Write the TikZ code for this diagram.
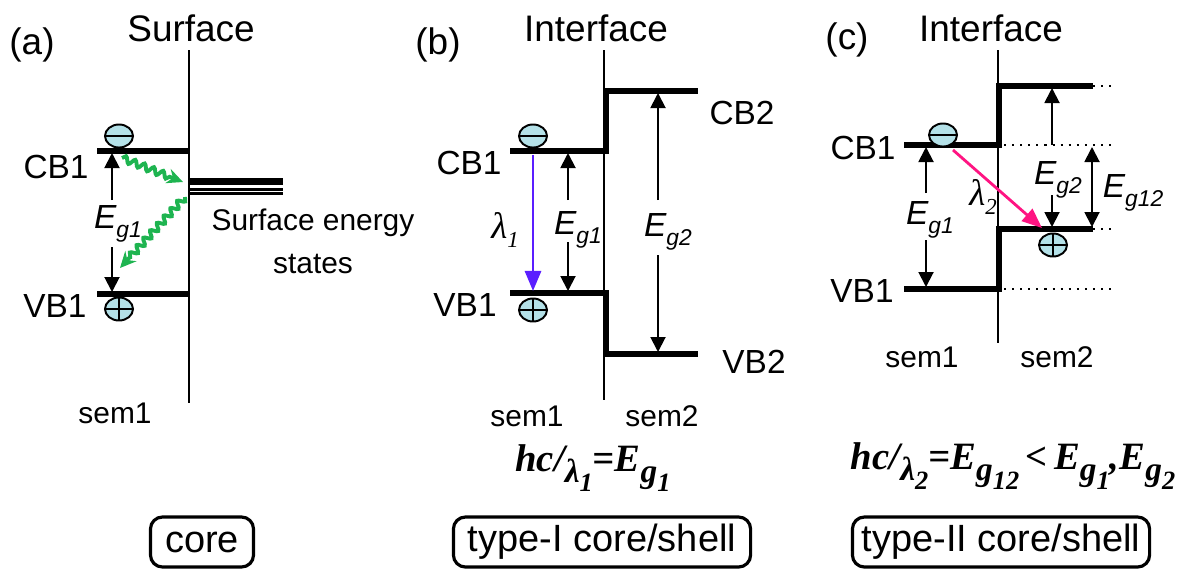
\documentclass[tikz,border=0pt]{standalone}
\usepackage{fontspec}
\setmainfont{Liberation Sans}
\newfontfamily\formfont{Liberation Serif}
\usetikzlibrary{arrows.meta,shapes.geometric,decorations.pathmorphing}
\definecolor{carrier}{RGB}{180,225,232}
\definecolor{lamblue}{RGB}{90,30,255}
\definecolor{lampink}{RGB}{255,20,130}
\definecolor{relax}{RGB}{30,180,80}
\newcommand{\lowsub}[1]{\raisebox{-0.5ex}{\fontsize{6.5}{7}\selectfont #1}}
\newcommand{\egap}[1]{\textit{E\lowsub{g#1}}}
\newcommand{\fsub}[1]{\raisebox{-0.6ex}{\fontsize{9.5}{10}\selectfont #1}}
\newcommand{\fsubsub}[1]{\raisebox{-0.6ex}{\fontsize{7.5}{8}\selectfont #1}}

\begin{document}
\begin{tikzpicture}[x=0.01cm,y=-0.01cm,
  every node/.style={font=\fontsize{9.5}{11}\selectfont, inner sep=1pt},
  title/.style={font=\fontsize{10.5}{12}\selectfont},
  sem/.style={font=\fontsize{8.5}{10}\selectfont},
  gaplabel/.style={font=\fontsize{9.5}{10}\selectfont},
  lvl/.style={line width=1.45pt},
  wall/.style={line width=0.55pt},
  gaparrow/.style={line width=0.55pt,-{Triangle[width=1.5mm,length=1.5mm]}},
  dots/.style={line width=0.7pt, dash pattern=on 0.6pt off 1.7pt},
  electron/.style={ellipse, draw, line width=0.55pt, fill=carrier, minimum width=0.28cm, minimum height=0.23cm, inner sep=0pt,
    path picture={\draw[line width=0.55pt] (path picture bounding box.west) -- (path picture bounding box.east);}},
  hole/.style={electron,
    path picture={\draw[line width=0.55pt] (path picture bounding box.west) -- (path picture bounding box.east)
      (path picture bounding box.north) -- (path picture bounding box.south);}},
  relaxation/.style={relax, line width=1.1pt, decorate,
    decoration={snake, amplitude=0.032cm, segment length=0.1cm, post length=0.12cm},
    -{Stealth[length=1.6mm,width=1.5mm]}},
  casebox/.style={draw, rounded corners=0.12cm, line width=0.9pt, minimum height=0.5cm, font=\fontsize{10.8}{12}\selectfont},
  formula/.style={font=\fontsize{11}{12}\selectfont\formfont\bfseries\itshape}
]
\useasboundingbox (0,0) rectangle (1182,569);

% ---------- (a) core ----------
\node[title] (laba) at (32,45) {(a)};
\node[title] (surfa) at (191,28) {Surface};
\coordinate (walla0) at (189,50);
\coordinate (walla1) at (189,403);
\draw[wall] (walla0) -- (walla1);
\coordinate (cba0) at (97,151);
\coordinate (cba1) at (189,151);
\coordinate (vba0) at (97,294);
\coordinate (vba1) at (190,294);
\draw[lvl] (cba0) -- (cba1);
\draw[lvl] (vba0) -- (vba1);
\node (cbla) at (56,167) {CB1};
\node (vbla) at (55,306) {VB1};
\node[electron] (ea) at (119,136) {};
\node[hole] (ha) at (119,309) {};
\node[gaplabel] (eg1a) at (118,224) {\egap{1}};
\coordinate (eg1a0) at (112,200);
\coordinate (eg1a1) at (112,153);
\coordinate (eg1a2) at (112,247);
\coordinate (eg1a3) at (112,292);
\draw[gaparrow] (eg1a0) -- (eg1a1);
\draw[gaparrow] (eg1a2) -- (eg1a3);
% surface states
\coordinate (ssa0) at (190,181.5);
\coordinate (ssa1) at (283,181.5);
\draw[line width=1.8pt] (ssa0) -- (ssa1);
\foreach \y in {189.5,193.5}
  \draw[line width=0.6pt] (190,\y) -- (283,\y);
\coordinate (rla0) at (122,158);
\coordinate (rla1) at (183,182);
\coordinate (rla2) at (185,197);
\coordinate (rla3) at (120,268);
\draw[relaxation] (rla0) -- (rla1);
\draw[relaxation] (rla2) -- (rla3);
\node[sem, align=center, font=\fontsize{8.5}{12.2}\selectfont] (ssla) at (313,241) {Surface energy\\states};
\node[sem] (sem1a) at (115,413) {sem1};
\node[casebox, minimum width=1.03cm] (corea) at (202,542) {core};

% ---------- (b) type-I ----------
\node[title] (labb) at (438,45) {(b)};
\node[title] (intb) at (596,28) {Interface};
\coordinate (wallb0) at (604,50);
\coordinate (wallb1) at (604,400);
\draw[wall] (wallb0) -- (wallb1);
\coordinate (cbb0) at (510,151);
\coordinate (cbb1) at (606,151);
\coordinate (cbb2) at (606,91);
\coordinate (cbb3) at (698,91);
\coordinate (vbb0) at (510,293);
\coordinate (vbb1) at (606,293);
\coordinate (vbb2) at (606,354);
\coordinate (vbb3) at (698,354);
\draw[lvl] (cbb0) -- (cbb1) -- (cbb2) -- (cbb3);
\draw[lvl] (vbb0) -- (vbb1) -- (vbb2) -- (vbb3);
\node (cblb) at (469,163) {CB1};
\node (vblb) at (465,305) {VB1};
\node (cb2lb) at (742,113) {CB2};
\node (vb2lb) at (754,362) {VB2};
\node[electron] (eb) at (533,136) {};
\node[hole] (hb) at (533,310) {};
\coordinate (lamb0) at (533,155);
\coordinate (lamb1) at (533,291);
\draw[lamblue, line width=0.8pt, -{Triangle[width=1.6mm,length=2mm]}] (lamb0) -- (lamb1);
\node[font=\fontsize{10.5}{12}\selectfont\formfont\itshape] (laml1) at (505,230) {λ\lowsub{1}};
\node[gaplabel] (eg1b) at (578,230) {\egap{1}};
\coordinate (eg1b0) at (568,200);
\coordinate (eg1b1) at (568,153);
\coordinate (eg1b2) at (568,242);
\coordinate (eg1b3) at (568,291);
\draw[gaparrow] (eg1b0) -- (eg1b1);
\draw[gaparrow] (eg1b2) -- (eg1b3);
\node[gaplabel] (eg2b) at (668,232) {\egap{2}};
\coordinate (eg2b0) at (658,200);
\coordinate (eg2b1) at (658,93);
\coordinate (eg2b2) at (658,255);
\coordinate (eg2b3) at (658,352);
\draw[gaparrow] (eg2b0) -- (eg2b1);
\draw[gaparrow] (eg2b2) -- (eg2b3);
\node[sem] (sem1b) at (527,416) {sem1};
\node[sem] (sem2b) at (662,416) {sem2};
\node[formula] (forb) at (593,468) {hc/\fsub{λ\fsubsub{1}}=E\fsub{g\fsubsub{1}}};
\node[casebox, minimum width=2.97cm] (typeb) at (602,542) {type-I core/shell};

% ---------- (c) type-II ----------
\node[title] (labc) at (847,40) {(c)};
\node[title] (intc) at (991,28) {Interface};
\coordinate (wallc0) at (998,50);
\coordinate (wallc1) at (998,343);
\draw[wall] (wallc0) -- (wallc1);
\coordinate (cbc0) at (904,145);
\coordinate (cbc1) at (999,145);
\coordinate (cbc2) at (999,86);
\coordinate (cbc3) at (1093,86);
\coordinate (vbc0) at (904,289);
\coordinate (vbc1) at (999,289);
\coordinate (vbc2) at (999,229);
\coordinate (vbc3) at (1093,229);
\draw[lvl] (cbc0) -- (cbc1) -- (cbc2) -- (cbc3);
\draw[lvl] (vbc0) -- (vbc1) -- (vbc2) -- (vbc3);
\coordinate (dcb0) at (1004,145);
\coordinate (dcb1) at (1115,145);
\coordinate (dvb0) at (1004,289);
\coordinate (dvb1) at (1115,289);
\coordinate (dcb2) at (1115,86);
\coordinate (dvb2) at (1115,229);
\draw[dots] (dcb0) -- (dcb1);
\draw[dots] (dvb0) -- (dvb1);
\draw[dots] (cbc3) -- (dcb2);
\draw[dots] (vbc3) -- (dvb2);
\node (cblc) at (863,148) {CB1};
\node (vblc) at (862,291) {VB1};
\node[electron] (ec) at (943,135) {};
\node[hole] (hc) at (1053,245) {};
\coordinate (lamc0) at (953,150);
\coordinate (lamc1) at (1042,228);
\draw[lampink, line width=0.8pt, -{Triangle[width=1.6mm,length=2mm]}] (lamc0) -- (lamc1);
\node[font=\fontsize{10.5}{12}\selectfont\formfont\itshape] (laml2) at (983,197) {λ\lowsub{2}};
\node[gaplabel] (eg1c) at (930,220) {\egap{1}};
\coordinate (eg1c0) at (926,193);
\coordinate (eg1c1) at (926,147);
\coordinate (eg1c2) at (926,240);
\coordinate (eg1c3) at (926,287);
\draw[gaparrow] (eg1c0) -- (eg1c1);
\draw[gaparrow] (eg1c2) -- (eg1c3);
\node[gaplabel] (eg2c) at (1058,180) {\egap{2}};
\coordinate (eg2c0) at (1052,145);
\coordinate (eg2c1) at (1052,88);
\coordinate (eg2c2) at (1052,195);
\coordinate (eg2c3) at (1052,227);
\draw[gaparrow] (eg2c0) -- (eg2c1);
\draw[gaparrow] (eg2c2) -- (eg2c3);
\node[gaplabel] (eg12c) at (1133,193) {\egap{12}};
\coordinate (eg12c0) at (1092,147);
\coordinate (eg12c1) at (1092,227);
\draw[gaparrow, {Triangle[width=1.5mm,length=1.5mm]}-{Triangle[width=1.5mm,length=1.5mm]}] (eg12c0) -- (eg12c1);
\node[sem] (sem1c) at (922,357) {sem1};
\node[sem] (sem2c) at (1057,357) {sem2};
\node[formula] (forc) at (1013,466) {hc/\fsub{λ\fsubsub{2}}=E\fsub{g\fsubsub{12}}\,<\,E\fsub{g\fsubsub{1}},E\fsub{g\fsubsub{2}}};
\node[casebox, minimum width=2.97cm] (typec) at (1001,542) {type-II core/shell};
\end{tikzpicture}
\end{document}
